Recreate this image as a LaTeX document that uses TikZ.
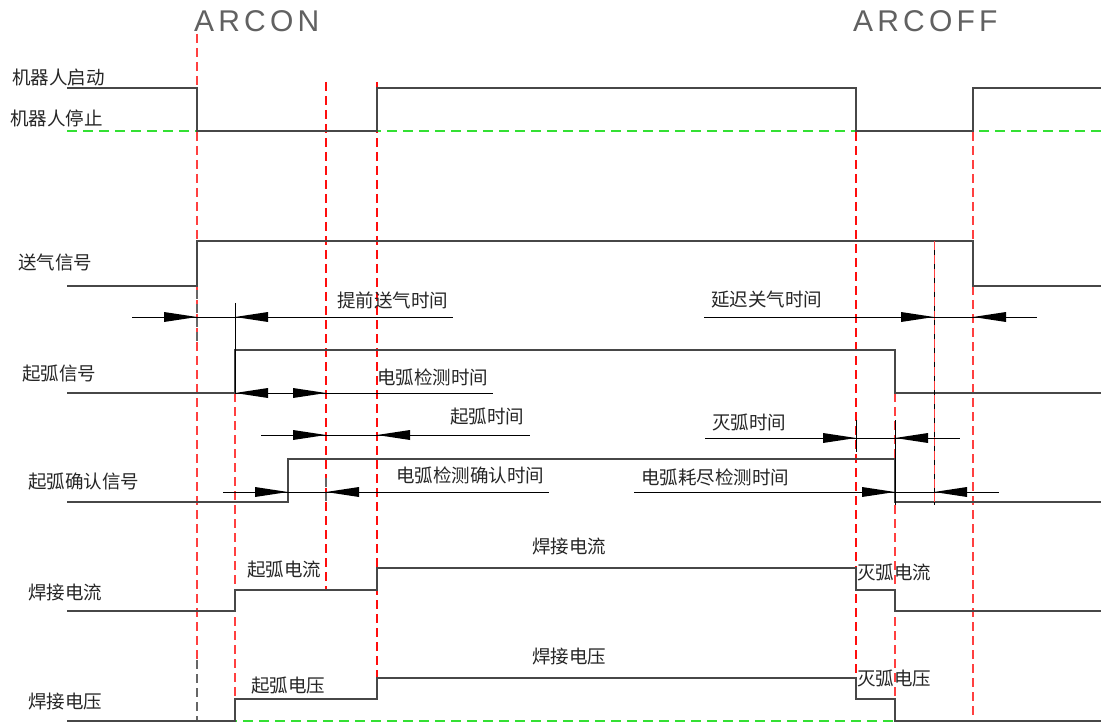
\documentclass[tikz,border=0pt]{standalone}
\usepackage{fontspec}
\newfontfamily\cjk{Noto Sans CJK SC}
\newfontfamily\arcfont[LetterSpace=14]{Liberation Sans}
\newcommand\rarr[2]{\fill[black] (#1,#2) -- ++(-33,-5) -- ++(0,10) -- cycle;}
\newcommand\larr[2]{\fill[black] (#1,#2) -- ++(33,-5) -- ++(0,10) -- cycle;}
\begin{document}
\begin{tikzpicture}[x=1pt,y=-1pt,
  sig/.style={draw=black!72, line width=1.4pt, line join=miter},
  dimline/.style={draw=black, line width=0.9pt},
  guide/.style={draw=red!75, line width=1.2pt, dash pattern=on 9pt off 5pt},
  guidestrong/.style={draw=red!95, line width=1.2pt, dash pattern=on 9pt off 5pt},
  darkdash/.style={draw=black!60, line width=1.1pt, dash pattern=on 9pt off 5pt},
  base/.style={draw=green!85!black!80, line width=1.2pt, dash pattern=on 10pt off 6pt},
  lbl/.style={font=\cjk\fontsize{18.5}{20}\selectfont, text=black!85, inner sep=0pt, anchor=west},
  arc/.style={font=\arcfont\fontsize{30}{32}\selectfont, text=black!62, inner sep=0pt, anchor=west},
]
\useasboundingbox[fill=white] (0,0) rectangle (1101,722);

% ---- titles
\node[arc] (arcon) at (194,21) {ARCON};
\node[arc] (arcoff) at (853,21) {ARCOFF};

% ---- baselines (green dashed)
\draw[base] (67,131) -- (1101,131);
\draw[base] (67,721) -- (1101,721);

% ---- guide lines (red dashed)
\draw[guide] (197,34) -- (197,660);
\draw[darkdash] (197,660) -- (197,722);
\draw[darkdash] (197,290) -- (197,345);
\draw[guide] (235,393) -- (235,722);
\draw[guidestrong] (326,82) -- (326,591);
\draw[guidestrong] (377,82) -- (377,680);
\draw[guidestrong] (856,132) -- (856,700);
\draw[guide] (895,393) -- (895,722);
\draw[guide] (973,132) -- (973,722);
\draw[darkdash] (326,478) -- (326,505);

% ---- robot start/stop
\draw[sig] (67,88) -- (197,88) -- (197,131) -- (377,131) -- (377,88) -- (856,88) -- (856,131) -- (973,131) -- (973,88) -- (1101,88);
% ---- gas signal
\draw[sig] (67,286) -- (197,286) -- (197,241) -- (973,241) -- (973,286) -- (1101,286);
% ---- arc start signal
\draw[sig] (67,393) -- (235,393) -- (235,350) -- (895,350) -- (895,393) -- (1101,393);
% ---- arc confirm signal
\draw[sig] (67,502) -- (288,502) -- (288,459) -- (895,459) -- (895,502) -- (1101,502);
% ---- welding current
\draw[sig] (67,611) -- (235,611) -- (235,590) -- (377,590) -- (377,568) -- (856,568) -- (856,590) -- (895,590) -- (895,611) -- (1101,611);
% ---- welding voltage
\draw[sig] (67,721) -- (235,721) -- (235,699) -- (377,699) -- (377,678) -- (856,678) -- (856,699) -- (895,699) -- (895,721) -- (1101,721);

% ---- extension ticks
\draw[dimline] (235,303) -- (235,393);
\draw[dimline] (934,241) -- (934,505);
\draw[guide, line width=0.8pt] (934,241) -- (934,505);
\draw[dimline] (856,420) -- (856,452);
\draw[dimline] (895,420) -- (895,505);

% ---- dimension: 提前送气时间
\draw[dimline] (132,317) -- (453,317);
\rarr{197}{317}
\larr{235}{317}
% ---- dimension: 电弧检测时间
\draw[dimline] (235,393) -- (493,393);
\larr{235}{393}
\rarr{326}{393}
% ---- dimension: 起弧时间
\draw[dimline] (261,435) -- (530,435);
\rarr{326}{435}
\larr{377}{435}
% ---- dimension: 电弧检测确认时间
\draw[dimline] (223,492) -- (549,492);
\rarr{288}{492}
\larr{326}{492}
% ---- dimension: 延迟关气时间
\draw[dimline] (704,317) -- (1037,317);
\rarr{934}{317}
\larr{973}{317}
% ---- dimension: 灭弧时间
\draw[dimline] (705,438) -- (960,438);
\rarr{856}{438}
\larr{895}{438}
% ---- dimension: 电弧耗尽检测时间
\draw[dimline] (634,492) -- (999,492);
\rarr{895}{492}
\larr{934}{492}

% ---- left labels
\node[lbl] (lstart) at (12,77) {机器人启动};
\node[lbl] (lstop) at (10,118) {机器人停止};
\node[lbl] (lgas) at (18,262) {送气信号};
\node[lbl] (larc) at (22,374) {起弧信号};
\node[lbl] (lconf) at (28,482) {起弧确认信号};
\node[lbl] (lcur) at (28,593) {焊接电流};
\node[lbl] (lvol) at (28,702) {焊接电压};

% ---- timing labels
\node[lbl] (t1) at (337,300) {提前送气时间};
\node[lbl] (t2) at (377,377) {电弧检测时间};
\node[lbl] (t3) at (450,417) {起弧时间};
\node[lbl] (t4) at (396,475) {电弧检测确认时间};
\node[lbl] (t5) at (711,300) {延迟关气时间};
\node[lbl] (t6) at (712,422) {灭弧时间};
\node[lbl] (t7) at (641,477) {电弧耗尽检测时间};

% ---- level labels
\node[lbl] (c1) at (247,570) {起弧电流};
\node[lbl] (c2) at (532,547) {焊接电流};
\node[lbl] (c3) at (857,572) {灭弧电流};
\node[lbl] (v1) at (251,686) {起弧电压};
\node[lbl] (v2) at (532,657) {焊接电压};
\node[lbl] (v3) at (857,678) {灭弧电压};
\end{tikzpicture}
\end{document}
